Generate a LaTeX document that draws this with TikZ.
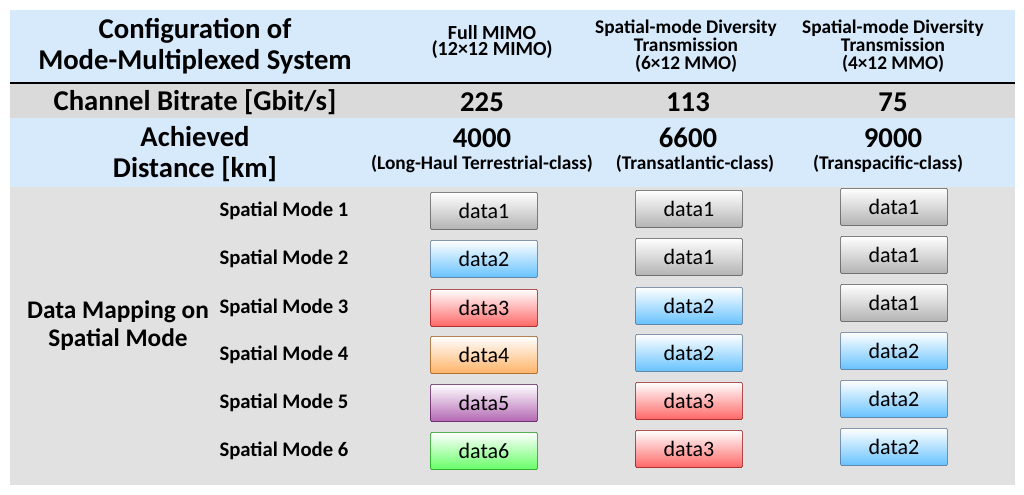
\documentclass[tikz,border=0pt]{standalone}
\usepackage{fontspec}
\setmainfont{Carlito}
\usepackage{tikz}

\definecolor{rowblue}{RGB}{214,234,252}
\definecolor{rowgrey}{RGB}{218,218,218}
\tikzset{
  big/.style={font=\bfseries\fontsize{21.5}{23}\selectfont, align=center},
  colhead/.style={font=\bfseries\fontsize{15}{14}\selectfont, align=center},
  modelabel/.style={font=\bfseries\fontsize{15.5}{16}\selectfont, anchor=east},
  databox/.style={draw=#1!55!black, rounded corners=1pt, minimum width=80pt, minimum height=28pt,
    top color=white, bottom color=#1!60, font=\fontsize{16.5}{17}\selectfont},
}

\begin{document}
\begin{tikzpicture}[x=0.75pt,y=-0.75pt]
    \useasboundingbox (0,0) rectangle (1024,494);
    % Row backgrounds
    \fill[rowblue] (10,10) rectangle (1015,83);
    \fill[rowgrey] (10,84) rectangle (1015,118);
    \fill[rowblue] (10,118) rectangle (1015,187);
    \fill[rowgrey!80] (10,187) rectangle (1015,485);
    \draw[thick] (10,83) -- (1015,83);

    % Header row
    \node[big] (cfg) at (195,46) {Configuration of\\Mode-Multiplexed System};
    \node[colhead] (full) at (492,42) {Full MIMO\\[-2pt](12×12 MIMO)};
    \node[colhead, font=\bfseries\fontsize{14.5}{13.5}\selectfont] (six) at (686,46) {Spatial-mode Diversity\\Transmission\\(6×12 MMO)};
    \node[colhead, font=\bfseries\fontsize{14.5}{13.5}\selectfont] (four) at (893,46) {Spatial-mode Diversity\\Transmission\\(4×12 MMO)};

    % Bitrate row
    \node[big] (rate) at (195,102) {Channel Bitrate [Gbit/s]};
    \node[big] (rateA) at (482,102) {225};
    \node[big] (rateB) at (688,102) {113};
    \node[big] (rateC) at (893,102) {75};

    % Distance row
    \node[big] (dist) at (195,154) {Achieved\\Distance [km]};
    \node[big] (distA) at (482,138) {4000};
    \node[big] (distB) at (688,138) {6600};
    \node[big] (distC) at (893,138) {9000};
    \node[colhead, font=\bfseries\fontsize{14.5}{15}\selectfont] (clsA) at (482,164) {(Long-Haul Terrestrial-class)};
    \node[colhead, font=\bfseries\fontsize{14.5}{15}\selectfont] (clsB) at (695,164) {(Transatlantic-class)};
    \node[colhead, font=\bfseries\fontsize{14.5}{15}\selectfont] (clsC) at (888,164) {(Transpacific-class)};

    % Data mapping
    \node[big, font=\bfseries\fontsize{19}{21}\selectfont] (map) at (118,326) {Data Mapping on\\Spatial Mode};
    \foreach \i/\y in {1/211,2/259,3/308,4/355,5/403,6/451}
      \node[modelabel] (mode\i) at (353,\y) {Spatial Mode \i};

    \foreach \i/\y/\c in {1/211/gray,2/259/cyan!60!blue,3/308/red,4/355/orange,5/403/violet,6/451/green}
      \node[databox=\c] (a\i) at (484,\y) {data\i};
    \foreach \i/\y/\c/\d in {1/209/gray/1,2/257/gray/1,3/306/cyan!60!blue/2,4/353/cyan!60!blue/2,5/401/red/3,6/449/red/3}
      \node[databox=\c] (b\i) at (689,\y) {data\d};
    \foreach \i/\y/\c/\d in {1/207/gray/1,2/255/gray/1,3/303/gray/1,4/351/cyan!60!blue/2,5/399/cyan!60!blue/2,6/447/cyan!60!blue/2}
      \node[databox=\c] (c\i) at (894,\y) {data\d};
\end{tikzpicture}
\end{document}
